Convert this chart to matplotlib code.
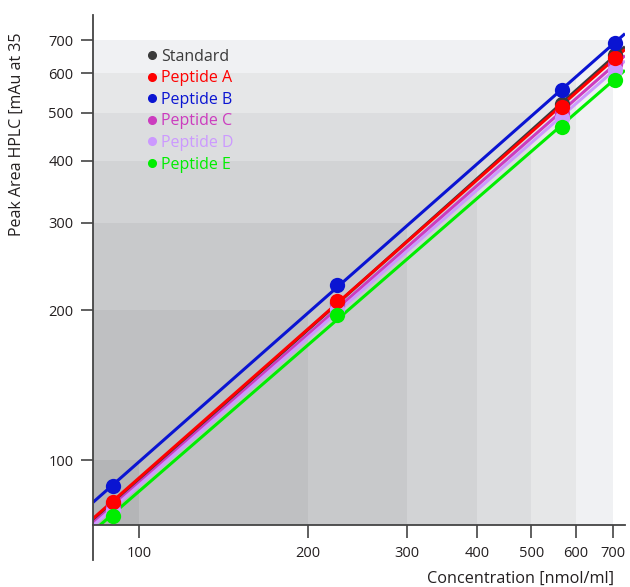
import numpy as np
import matplotlib
matplotlib.use("Agg")
import matplotlib.pyplot as plt
from matplotlib.patches import Rectangle
from matplotlib.lines import Line2D

plt.rcParams['font.family'] = ['Open Sans', 'DejaVu Sans']

# data (log-log calibration curves)
concentration = [90, 225, 567, 705]
series_names = ["Standard", "Peptide A", "Peptide B", "Peptide C", "Peptide D", "Peptide E"]
standard = [81.5, 207, 520, 652]
peptide_a = [82.3, 209, 513, 644]
peptide_b = [88.7, 225, 555, 690]
peptide_c = [80.5, 204, 499, 626]
peptide_d = [79.5, 201, 488, 610]
peptide_e = [77, 196, 468, 582]
series_colors = ["#3a3a3a", "#ff0000", "#0a14d2", "#cc3cbf", "#cc99ff", "#00ee00"]

tick_values = [100, 200, 300, 400, 500, 600, 700]
shade_colors = ["#b4b5b7", "#bfc0c2", "#c8c9cb", "#d2d3d5", "#dcdddf", "#e6e7e8", "#f0f1f3"]

xmin, xmax = 82.8, 735
ymin, ymax = 74, 786
axis_color = "#444444"
text_color = "#231f20"

fig = plt.figure(figsize=(6.3, 5.87), dpi=100)
ax = fig.add_axes([93 / 630, 62 / 587, 532 / 630, 510 / 587])
ax.set_xscale("log")
ax.set_yscale("log")
ax.set_xlim(xmin, xmax)
ax.set_ylim(ymin, ymax)

# nested grey squares, largest (lightest) first
for v, c in reversed(list(zip(tick_values, shade_colors))):
    ax.add_patch(Rectangle((xmin, ymin), v - xmin, v - ymin, facecolor=c,
                           edgecolor="none", zorder=0))

all_series = [standard, peptide_a, peptide_b, peptide_c, peptide_d, peptide_e]
xs = np.array(concentration, dtype=float)
xline = np.array([xmin, xmax])

# fitted power-law lines
for vals, col in zip(all_series, series_colors):
    k, b = np.polyfit(np.log10(xs), np.log10(vals), 1)
    ax.plot(xline, 10 ** (k * np.log10(xline) + b), color=col, lw=2.2, zorder=2,
            solid_capstyle="butt")

# points, drawn so the stacking matches the reference
for i in [0, 3, 4, 1, 5, 2]:
    ax.plot(concentration, all_series[i], "o", color=series_colors[i],
            markersize=11, markeredgewidth=0, zorder=3)

ax.set_xticks(tick_values)
ax.set_xticklabels([str(t) for t in tick_values])
ax.set_yticks(tick_values)
ax.set_yticklabels([str(t) for t in tick_values])
ax.minorticks_off()
ax.tick_params(axis="x", length=9, width=1.2, color=axis_color, labelsize=10.5,
               labelcolor=text_color, pad=6)
ax.tick_params(axis="y", length=9, width=1.2, color=axis_color, labelsize=10.5,
               labelcolor=text_color, pad=5)

for s in ["top", "right"]:
    ax.spines[s].set_visible(False)
for s in ["left", "bottom"]:
    ax.spines[s].set_color(axis_color)
    ax.spines[s].set_linewidth(1.3)
# left axis line runs a little below the x axis
ax.add_line(Line2D([0, 0], [0, -0.069], transform=ax.transAxes, color=axis_color,
                   lw=1.3, clip_on=False))

handles = [Line2D([], [], marker="o", ls="", color=c, markersize=5.5) for c in series_colors]
ax.legend(handles, series_names, loc="upper left", bbox_to_anchor=(0.104, 0.934),
          frameon=False, handlelength=0.5, handletextpad=0.3, labelspacing=0.35,
          borderpad=0, borderaxespad=0, fontsize=11.5, labelcolor=series_colors)

fig.text(17 / 630, 1 - 236 / 587, "Peak Area HPLC [mAu at 35", rotation=90,
         ha="center", va="bottom", fontsize=11.5, color=text_color)
fig.text(614 / 630, 1 - 571 / 587, "Concentration [nmol/ml]", ha="right", va="top",
         fontsize=11.7, color=text_color)

fig.savefig("out.png", dpi=100)
